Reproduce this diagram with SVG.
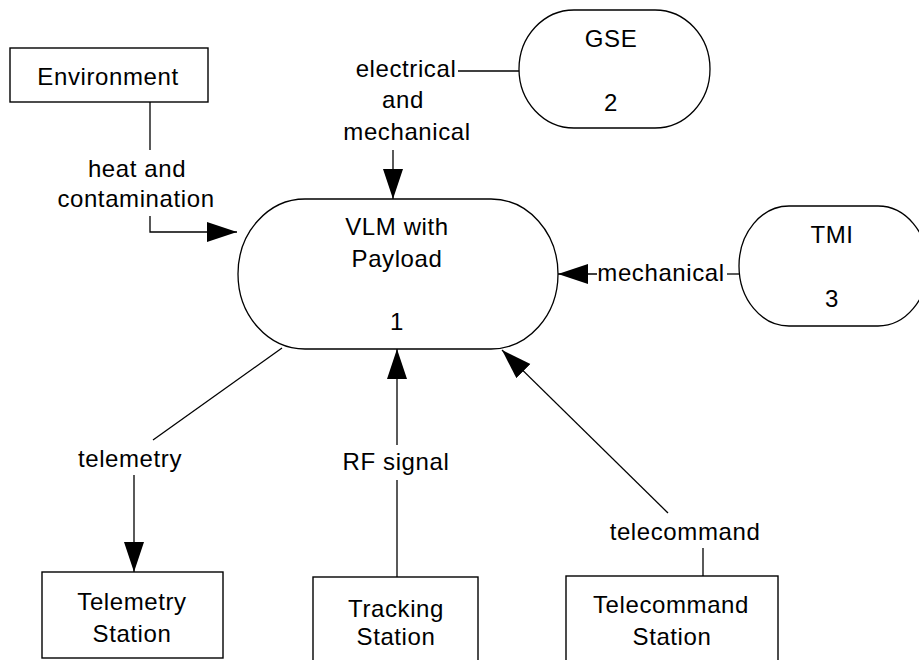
<svg xmlns="http://www.w3.org/2000/svg" width="919" height="660" viewBox="0 0 919 660">
<style>
  .box { fill: #fff; stroke: #000; stroke-width: 1.4; }
  .proc { fill: #fff; stroke: #000; stroke-width: 1.3; }
  .ln { fill: none; stroke: #000; stroke-width: 1.3; }
  text { font-family: "Liberation Sans", Arial, sans-serif; font-size: 24px; letter-spacing: 0.6px; fill: #000; text-anchor: middle; }
</style>
<defs>
  <marker id="ah" markerUnits="userSpaceOnUse" markerWidth="32" markerHeight="22" refX="30" refY="10" orient="auto">
    <path d="M0,0 L30,10 L0,20 z" fill="#000"/>
  </marker>
</defs>
<rect width="919" height="660" fill="#fff"/>

<g id="connectors">
  <path class="ln" d="M150,102 V150"/>
  <path class="ln" d="M150,216 V232 H237" marker-end="url(#ah)"/>
  <path class="ln" d="M519,71 H458"/>
  <path class="ln" d="M393,150 V199" marker-end="url(#ah)"/>
  <path class="ln" d="M739,274 H727"/>
  <path class="ln" d="M597,274 H558" marker-end="url(#ah)"/>
  <path class="ln" d="M282,348 L153,440"/>
  <path class="ln" d="M134,475 V572" marker-end="url(#ah)"/>
  <path class="ln" d="M397,577 V480"/>
  <path class="ln" d="M397,445 V349" marker-end="url(#ah)"/>
  <path class="ln" d="M703,576 V548"/>
  <path class="ln" d="M668,513 L502,350" marker-end="url(#ah)"/>
  <text x="137" y="177">heat and</text>
  <text x="136" y="207">contamination</text>
  <text x="406" y="77">electrical</text>
  <text x="403" y="108">and</text>
  <text x="407" y="140">mechanical</text>
  <text x="661" y="281">mechanical</text>
  <text x="130" y="467">telemetry</text>
  <text x="396" y="470">RF signal</text>
  <text x="685" y="540">telecommand</text>
</g>

<g id="environment">
  <rect class="box" x="10" y="48" width="198" height="54"/>
  <text x="108" y="85">Environment</text>
</g>

<g id="vlm">
  <rect class="proc" x="238" y="199" width="320" height="150" rx="67" ry="75"/>
  <text x="397" y="235">VLM with</text>
  <text x="397" y="267">Payload</text>
  <text x="397" y="330">1</text>
</g>

<g id="gse">
  <rect class="proc" x="519" y="10" width="191" height="118" rx="55" ry="59"/>
  <text x="611" y="47">GSE</text>
  <text x="611" y="111">2</text>
</g>

<g id="tmi">
  <rect class="proc" x="739" y="206" width="189" height="120" rx="50" ry="60"/>
  <text x="832" y="243">TMI</text>
  <text x="832" y="307">3</text>
</g>

<g id="telemetry-station">
  <rect class="box" x="42" y="572" width="181" height="86"/>
  <text x="132" y="610">Telemetry</text>
  <text x="132" y="642">Station</text>
</g>

<g id="tracking-station">
  <rect class="box" x="313" y="577" width="165" height="100"/>
  <text x="396" y="617">Tracking</text>
  <text x="396" y="645">Station</text>
</g>

<g id="telecommand-station">
  <rect class="box" x="566" y="576" width="212" height="100"/>
  <text x="671" y="613">Telecommand</text>
  <text x="672" y="645">Station</text>
</g>
</svg>
